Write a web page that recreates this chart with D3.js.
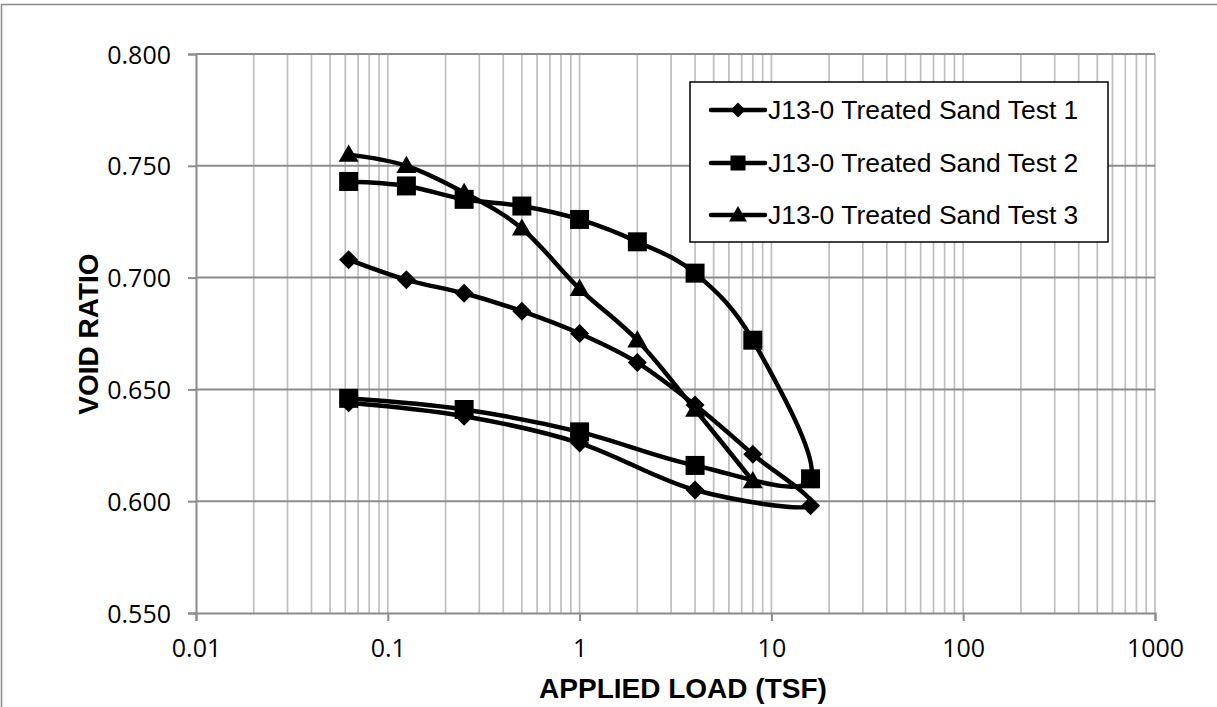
<!DOCTYPE html>
<html>
<head>
<meta charset="utf-8">
<script src="https://cdn.jsdelivr.net/npm/d3@7"></script>
<style>
  body { margin: 0; background: #fff; }
  svg { display: block; }
  .tick-label { font-family: "Open Sans", sans-serif; font-size: 25px; fill: #000; }
  .axis-title { font-family: "Liberation Sans", Arial, sans-serif; font-size: 28px; font-weight: bold; fill: #000; }
  .legend-text { font-family: "Liberation Sans", Arial, sans-serif; font-size: 26.5px; fill: #000; }
</style>
</head>
<body>
<div id="chart"></div>
<script>
// applied load (tsf) for each reading, void ratio
var loads = [0.0625, 0.125, 0.25, 0.5, 1, 2, 4, 8, 16, 4, 1, 0.25, 0.0625];
var loads3 = [0.0625, 0.125, 0.25, 0.5, 1, 2, 4, 8];
var test1 = [0.708, 0.699, 0.693, 0.685, 0.675, 0.662, 0.643, 0.621, 0.598, 0.605, 0.626, 0.638, 0.644];
var test2 = [0.743, 0.741, 0.735, 0.732, 0.726, 0.716, 0.702, 0.672, 0.610, 0.616, 0.631, 0.641, 0.646];
var test3 = [0.755, 0.750, 0.738, 0.722, 0.695, 0.672, 0.641, 0.609];
var seriesNames = ["J13-0 Treated Sand Test 1", "J13-0 Treated Sand Test 2", "J13-0 Treated Sand Test 3"];
var xTicks = [0.01, 0.1, 1, 10, 100, 1000];
var yTicks = [0.550, 0.600, 0.650, 0.700, 0.750, 0.800];

var W = 1217, H = 707;
var margin = {left: 196, right: 62, top: 54, bottom: 94};

var svg = d3.select("#chart").append("svg")
  .attr("width", W)
  .attr("height", H);

// outer chart frame
svg.append("rect")
  .attr("x", 1.5).attr("y", 4.5)
  .attr("width", W + 10).attr("height", H + 10)
  .attr("fill", "none")
  .attr("stroke", "#898989")
  .attr("stroke-width", 1.5);

var x = d3.scaleLog()
  .domain([0.01, 1000])
  .range([margin.left, W - margin.right]);

var y = d3.scaleLinear()
  .domain([0.55, 0.80])
  .range([H - margin.bottom, margin.top]);

// minor + major vertical gridlines (1..9 per decade)
var vgrid = [];
for (var e = -2; e < 3; e++) {
  for (var k = 1; k <= 9; k++) vgrid.push(k * Math.pow(10, e));
}
vgrid.push(1000);

svg.append("g").selectAll("line")
  .data(vgrid.filter(d => d > 0.01))
  .enter().append("line")
  .attr("x1", d => x(d)).attr("x2", d => x(d))
  .attr("y1", y(0.8)).attr("y2", y(0.55))
  .attr("stroke", "#bfbfbf")
  .attr("stroke-width", 1.7);

// horizontal gridlines
svg.append("g").selectAll("line")
  .data(yTicks.filter(d => d > 0.55))
  .enter().append("line")
  .attr("x1", x(0.01)).attr("x2", x(1000))
  .attr("y1", d => y(d)).attr("y2", d => y(d))
  .attr("stroke", "#8c8c8c")
  .attr("stroke-width", 2);

// axes
var xAxis = d3.axisBottom(x)
  .tickValues(xTicks)
  .tickSize(8)
  .tickFormat(d => d3.format("~g")(d));

var yAxis = d3.axisLeft(y)
  .tickValues(yTicks)
  .tickSize(8)
  .tickFormat(d3.format(".3f"));

var gx = svg.append("g")
  .attr("transform", `translate(0, ${y(0.55)})`)
  .call(xAxis);

var gy = svg.append("g")
  .attr("transform", `translate(${x(0.01)}, 0)`)
  .call(yAxis);

[gx, gy].forEach(g => {
  g.select(".domain").attr("stroke", "#8c8c8c").attr("stroke-width", 2);
  g.selectAll(".tick line").attr("stroke", "#8c8c8c").attr("stroke-width", 2);
  g.selectAll(".tick text").attr("class", "tick-label").attr("font-family", null).attr("font-size", null);
});
gx.selectAll(".tick text").attr("dy", null).attr("y", 44);
gy.selectAll(".tick text").attr("x", -25).attr("dy", "0.36em");

// axis titles
svg.append("text")
  .attr("class", "axis-title")
  .attr("x", 683)
  .attr("y", 698)
  .attr("text-anchor", "middle")
  .text("APPLIED LOAD (TSF)");

svg.append("text")
  .attr("class", "axis-title")
  .attr("transform", "translate(98, 334) rotate(-90)")
  .attr("text-anchor", "middle")
  .text("VOID RATIO");

// marker shapes
function marker(type, s) {
  if (type === "diamond") return `M0,${-s}L${s},0L0,${s}L${-s},0Z`;
  if (type === "square") return `M${-s},${-s}H${s}V${s}H${-s}Z`;
  return `M0,${-s}L${s},${s * 0.72}L${-s},${s * 0.72}Z`;
}

var series = [
  {name: seriesNames[0], xs: loads, ys: test1, shape: "diamond", size: 9.5},
  {name: seriesNames[1], xs: loads, ys: test2, shape: "square", size: 9.5},
  {name: seriesNames[2], xs: loads3, ys: test3, shape: "triangle", size: 10}
];

var line = d3.line()
  .x(d => x(d[0]))
  .y(d => y(d[1]))
  .curve(d3.curveCatmullRom.alpha(0));

series.forEach(s => {
  var pts = s.xs.map((v, i) => [v, s.ys[i]]);
  var g = svg.append("g");
  g.append("path")
    .datum(pts)
    .attr("d", line)
    .attr("fill", "none")
    .attr("stroke", "#000")
    .attr("stroke-width", 4.5)
    .attr("stroke-linejoin", "round");
  g.selectAll("path.mk")
    .data(pts)
    .enter().append("path")
    .attr("class", "mk")
    .attr("transform", d => `translate(${x(d[0])}, ${y(d[1])})`)
    .attr("d", marker(s.shape, s.size))
    .attr("fill", "#000");
});

// legend
var legend = svg.append("g");
legend.append("rect")
  .attr("x", 690).attr("y", 82)
  .attr("width", 418).attr("height", 160)
  .attr("fill", "#fff")
  .attr("stroke", "#000")
  .attr("stroke-width", 1.5);

var rowY = [110, 163, 215];
series.forEach((s, i) => {
  var row = legend.append("g").attr("transform", `translate(0, ${rowY[i]})`);
  row.append("line")
    .attr("x1", 711).attr("x2", 765)
    .attr("stroke", "#000").attr("stroke-width", 4.5)
    .attr("stroke-linecap", "round");
  row.append("path")
    .attr("transform", "translate(738, 0)")
    .attr("d", marker(s.shape, s.shape === "triangle" ? 9 : 7.5))
    .attr("fill", "#000");
  row.append("text")
    .attr("class", "legend-text")
    .attr("x", 768)
    .attr("dy", "0.35em")
    .text(s.name);
});
</script>
</body>
</html>
